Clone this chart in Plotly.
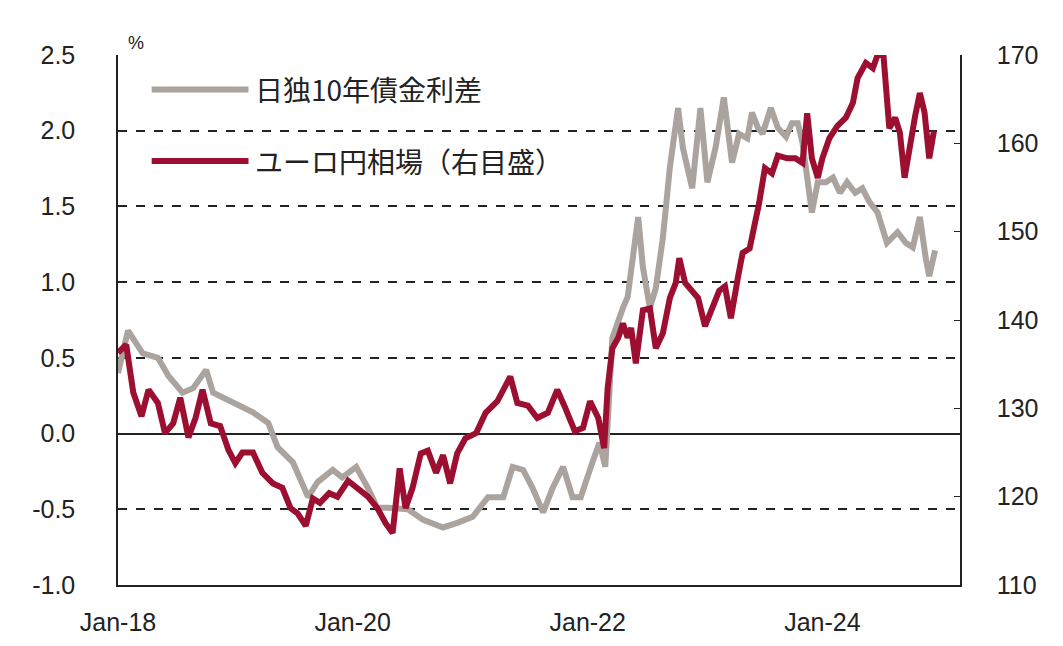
import plotly.graph_objects as go
import pandas as pd

gray_t = [2018.00,2018.085,2018.21,2018.34,2018.43,2018.55,2018.64,2018.75,2018.81,2018.94,2019.06,2019.15,2019.28,2019.36,2019.49,2019.62,2019.70,2019.83,2019.91,2020.03,2020.13,2020.21,2020.30,2020.47,2020.60,2020.77,2020.89,2021.02,2021.15,2021.28,2021.36,2021.45,2021.53,2021.62,2021.70,2021.79,2021.87,2021.94,2022.04,2022.10,2022.15,2022.21,2022.30,2022.34,2022.43,2022.47,2022.53,2022.58,2022.64,2022.70,2022.77,2022.81,2022.89,2022.96,2023.02,2023.09,2023.16,2023.23,2023.29,2023.36,2023.40,2023.45,2023.49,2023.56,2023.62,2023.69,2023.74,2023.79,2023.83,2023.87,2023.91,2023.96,2024.03,2024.09,2024.15,2024.21,2024.28,2024.34,2024.40,2024.47,2024.55,2024.64,2024.71,2024.77,2024.83,2024.88,2024.91,2024.96]
gray_v = [0.40,0.68,0.53,0.50,0.38,0.27,0.30,0.42,0.27,0.22,0.17,0.14,0.07,-0.09,-0.19,-0.42,-0.32,-0.24,-0.29,-0.22,-0.36,-0.49,-0.49,-0.50,-0.57,-0.62,-0.59,-0.55,-0.42,-0.42,-0.22,-0.24,-0.36,-0.52,-0.36,-0.22,-0.42,-0.42,-0.19,-0.06,-0.22,0.63,0.83,0.90,1.43,1.10,0.83,0.96,1.29,1.76,2.15,1.89,1.62,2.15,1.66,1.89,2.22,1.79,1.98,1.95,2.12,2.02,1.98,2.15,2.02,1.96,2.05,2.05,1.92,1.72,1.46,1.66,1.66,1.69,1.59,1.66,1.59,1.62,1.53,1.46,1.26,1.33,1.26,1.23,1.43,1.16,1.04,1.21]

red_t = [2018.00,2018.07,2018.13,2018.20,2018.26,2018.34,2018.40,2018.47,2018.53,2018.60,2018.66,2018.72,2018.79,2018.87,2018.94,2019.00,2019.06,2019.15,2019.23,2019.32,2019.40,2019.47,2019.53,2019.60,2019.66,2019.72,2019.80,2019.87,2019.96,2020.04,2020.13,2020.21,2020.28,2020.34,2020.40,2020.45,2020.51,2020.58,2020.64,2020.71,2020.77,2020.83,2020.89,2020.96,2021.05,2021.13,2021.23,2021.34,2021.40,2021.49,2021.57,2021.66,2021.74,2021.81,2021.89,2021.96,2022.02,2022.09,2022.14,2022.17,2022.20,2022.21,2022.26,2022.30,2022.34,2022.37,2022.41,2022.47,2022.53,2022.58,2022.64,2022.70,2022.75,2022.78,2022.83,2022.94,2023.00,2023.06,2023.12,2023.17,2023.22,2023.28,2023.32,2023.38,2023.43,2023.46,2023.51,2023.57,2023.62,2023.70,2023.77,2023.83,2023.87,2023.91,2023.96,2024.00,2024.06,2024.13,2024.20,2024.26,2024.30,2024.37,2024.43,2024.47,2024.52,2024.57,2024.62,2024.66,2024.70,2024.75,2024.79,2024.83,2024.87,2024.91,2024.95]
red_v = [136.3,137.2,131.8,129.1,132.1,130.6,127.2,128.3,131.2,126.7,128.9,132.1,128.3,128.0,125.3,123.8,125.0,125.0,122.7,121.5,121.0,118.7,118.1,116.7,119.8,119.3,120.4,120.0,121.8,121.0,120.0,118.7,117.0,115.9,123.2,118.7,121.0,124.9,125.2,122.7,124.7,121.5,124.9,126.6,127.2,129.5,130.8,133.6,130.6,130.3,128.9,129.5,132.1,130.0,127.4,127.8,130.8,128.9,125.5,132.3,135.7,136.8,138.0,139.6,138.0,139.1,135.1,141.1,141.3,136.8,138.5,142.5,144.2,147.0,144.2,142.5,139.3,141.3,143.3,143.8,140.2,144.8,147.6,148.1,151.0,153.2,157.2,156.6,158.6,158.3,158.3,157.8,163.4,158.3,156.1,158.3,160.6,162.0,162.9,164.6,167.4,169.1,168.5,170.0,170.0,161.7,162.9,161.2,156.1,160.6,163.1,165.7,163.5,158.3,161.4]

x_ticks = ["2018-01-01", "2020-01-01", "2022-01-01", "2024-01-01"]
x_labels = ["Jan-18", "Jan-20", "Jan-22", "Jan-24"]
y_ticks = [-1.0, -0.5, 0.0, 0.5, 1.0, 1.5, 2.0, 2.5]
y_labels = ["-1.0", "-0.5", "0.0", "0.5", "1.0", "1.5", "2.0", "2.5"]
names = ["日独10年債金利差", "ユーロ円相場（右目盛）"]

def to_date(t):
    y = int(t)
    start = pd.Timestamp(year=y, month=1, day=1)
    return start + pd.Timedelta(days=(t - y) * 365.25)

GRAY = "#aba49e"
RED = "#9c0f30"

fig = go.Figure()
fig.add_trace(go.Scatter(x=[to_date(t) for t in gray_t], y=gray_v, mode="lines",
                         line=dict(color=GRAY, width=6), name=names[0]))
fig.add_trace(go.Scatter(x=[to_date(t) for t in red_t], y=red_v, mode="lines",
                         line=dict(color=RED, width=6), name=names[1], yaxis="y2"))

font = dict(family="Liberation Sans, Arial", size=25, color="#222")
fig.update_layout(
    width=1063, height=646, showlegend=False,
    margin=dict(l=110, r=111, t=47, b=69, autoexpand=False),
    plot_bgcolor="white", paper_bgcolor="white", font=font,
    xaxis=dict(range=[to_date(2018.0), to_date(2025.17)], tickvals=x_ticks, ticktext=x_labels,
               showgrid=False, showline=True, linecolor="#222", linewidth=1.5,
               ticks="", zeroline=False, ticklabelstandoff=14),
    yaxis=dict(range=[-1.0, 2.5], tickvals=y_ticks, ticktext=y_labels, showgrid=True,
               gridcolor="#222", griddash="dash", gridwidth=1.5,
               zeroline=True, zerolinecolor="#222", zerolinewidth=1.5,
               showline=True, linecolor="#222", linewidth=1.5, ticks="",
               ticklabelstandoff=36),
    yaxis2=dict(range=[110, 170], dtick=10, overlaying="y", side="right",
                showgrid=False, zeroline=False, showline=True, linecolor="#222",
                linewidth=1.5, ticks="inside", ticklen=6, tickcolor="#222",
                ticklabelstandoff=30),
)
fig.add_annotation(x=0.01, y=1.0, xref="paper", yref="paper", text="%", showarrow=False,
                   xanchor="left", yanchor="bottom", font=dict(size=18))
for i, (nm, col) in enumerate(zip(names, [GRAY, RED])):
    yy = 0.935 - i * 0.135
    fig.add_shape(type="line", xref="paper", yref="paper", x0=0.04, x1=0.155, y0=yy, y1=yy,
                  line=dict(color=col, width=6))
    fig.add_annotation(x=0.16, y=yy, xref="paper", yref="paper", text=nm, showarrow=False,
                       xanchor="left", yanchor="middle",
                       font=dict(family="Noto Sans CJK JP", size=28, color="#222"))
fig.write_html("out.html")
